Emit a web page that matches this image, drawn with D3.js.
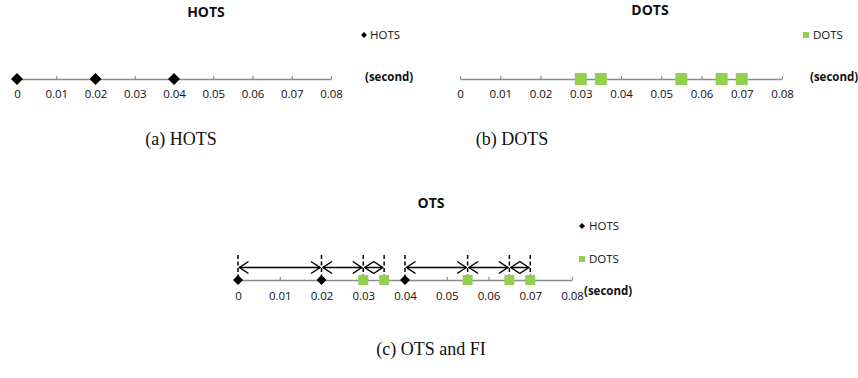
<!DOCTYPE html>
<html>
<head>
<meta charset="utf-8">
<script src="https://cdn.jsdelivr.net/npm/d3@7"></script>
<style>
  html, body { margin: 0; padding: 0; background: #fff; }
  svg { display: block; }
</style>
</head>
<body>
<svg id="chart" width="858" height="378"></svg>
<script>
// ---- data ----
const tickValues = [0, 0.01, 0.02, 0.03, 0.04, 0.05, 0.06, 0.07, 0.08];
const tickLabels = ["0", "0.01", "0.02", "0.03", "0.04", "0.05", "0.06", "0.07", "0.08"];
const hotsTimes = [0, 0.02, 0.04];
const dotsTimes = [0.03, 0.035, 0.055, 0.065, 0.07];
const fiStarts = [0, 0.02, 0.03, 0.04, 0.055, 0.065];
const fiEnds   = [0.02, 0.03, 0.035, 0.055, 0.065, 0.07];
const panelTitles = ["HOTS", "DOTS", "OTS"];
const captions = ["(a) HOTS", "(b) DOTS", "(c) OTS and FI"];
const unitLabel = "(second)";

const GREEN = "#92d050";
const AXIS_GRAY = "#8c8c8c";
const TXT = "#111";
const sansFont = "'Open Sans', 'Liberation Sans', sans-serif";
const serifFont = "'Liberation Serif', 'DejaVu Serif', serif";

const svg = d3.select("#chart");

function drawAxis(g, x, y, pad) {
  const axis = d3.axisBottom(x)
    .tickValues(tickValues)
    .tickFormat((d, i) => tickLabels[i])
    .tickSizeInner(-3)
    .tickSizeOuter(0)
    .tickPadding(pad);
  const ax = g.append("g").attr("transform", `translate(0,${y})`).call(axis);
  ax.select(".domain").attr("stroke", AXIS_GRAY).attr("stroke-width", 1.6);
  ax.selectAll(".tick line").attr("stroke", AXIS_GRAY).attr("stroke-width", 1.2);
  ax.selectAll(".tick text")
    .attr("font-family", sansFont).attr("font-size", 11.5).attr("fill", TXT);
  return ax;
}

function diamond(g, cx, cy, half) {
  g.append("path")
    .attr("d", `M${cx},${cy - half}L${cx + half},${cy}L${cx},${cy + half}L${cx - half},${cy}Z`)
    .attr("fill", "#000");
}
function square(g, cx, cy, half, color) {
  g.append("rect")
    .attr("x", cx - half).attr("y", cy - half)
    .attr("width", 2 * half).attr("height", 2 * half)
    .attr("fill", color);
}
function text(g, x, y, str, opts) {
  return g.append("text")
    .attr("x", x).attr("y", y)
    .attr("text-anchor", opts.anchor || "start")
    .attr("font-family", opts.family || sansFont)
    .attr("font-size", opts.size || 11.5)
    .attr("font-weight", opts.weight || "normal")
    .attr("fill", opts.fill || TXT)
    .text(str);
}

// ---- panel (a) HOTS ----
{
  const g = svg.append("g");
  const x = d3.scaleLinear().domain([0, 0.08]).range([17, 331]);
  const y0 = 79;
  drawAxis(g, x, y0, 11);
  hotsTimes.forEach(t => diamond(g, x(t), y0, 6));
  text(g, 206, 17, panelTitles[0], { anchor: "middle", size: 14, weight: "bold" });
  diamond(g, 364, 35, 3);
  text(g, 370, 39, "HOTS", { size: 11.5 });
  text(g, 365, 81, unitLabel, { size: 11.5, weight: "bold" });
  text(g, 181, 145, captions[0], { anchor: "middle", family: serifFont, size: 18, fill: "#111" });
}

// ---- panel (b) DOTS ----
{
  const g = svg.append("g");
  const x = d3.scaleLinear().domain([0, 0.08]).range([460, 782]);
  const y0 = 79;
  drawAxis(g, x, y0, 11);
  dotsTimes.forEach(t => square(g, x(t), y0, 6, GREEN));
  text(g, 650, 15, panelTitles[1], { anchor: "middle", size: 14, weight: "bold" });
  square(g, 806, 35, 3, GREEN);
  text(g, 813, 39, "DOTS", { size: 11.5 });
  text(g, 810, 81, unitLabel, { size: 11.5, weight: "bold" });
  text(g, 512, 145, captions[1], { anchor: "middle", family: serifFont, size: 18, fill: "#111" });
}

// ---- panel (c) OTS and FI ----
{
  const g = svg.append("g");
  const x = d3.scaleLinear().domain([0, 0.08]).range([238, 572]);
  const y0 = 280;
  const yArrow = 267.5;
  const yDashTop = 255;
  drawAxis(g, x, y0, 12);

  // dashed boundaries
  const bounds = Array.from(new Set(fiStarts.concat(fiEnds))).sort(d3.ascending);
  g.selectAll("line.dash").data(bounds).join("line")
    .attr("x1", d => x(d)).attr("x2", d => x(d))
    .attr("y1", yDashTop).attr("y2", y0)
    .attr("stroke", "#000").attr("stroke-width", 1.5)
    .attr("stroke-dasharray", "4,2.5");

  // double-headed arrows with open chevron heads
  const head = 9, hw = 6, inset = 1.5;
  fiStarts.forEach((s, i) => {
    const xa = x(s) + inset, xb = x(fiEnds[i]) - inset;
    g.append("line").attr("x1", xa).attr("x2", xb)
      .attr("y1", yArrow).attr("y2", yArrow)
      .attr("stroke", "#000").attr("stroke-width", 1.5);
    g.append("path")
      .attr("d", `M${xa + head},${yArrow - hw}L${xa},${yArrow}L${xa + head},${yArrow + hw}`)
      .attr("fill", "none").attr("stroke", "#000").attr("stroke-width", 1.5);
    g.append("path")
      .attr("d", `M${xb - head},${yArrow - hw}L${xb},${yArrow}L${xb - head},${yArrow + hw}`)
      .attr("fill", "none").attr("stroke", "#000").attr("stroke-width", 1.5);
  });

  dotsTimes.forEach(t => square(g, x(t), y0, 5, GREEN));
  hotsTimes.forEach(t => diamond(g, x(t), y0, 5));

  text(g, 431, 208, panelTitles[2], { anchor: "middle", size: 14, weight: "bold" });
  diamond(g, 582, 226, 3);
  text(g, 589, 230, "HOTS", { size: 11.5 });
  square(g, 582, 259, 3, GREEN);
  text(g, 589, 263, "DOTS", { size: 11.5 });
  text(g, 584, 295, unitLabel, { size: 11.5, weight: "bold" });
  text(g, 431, 355, captions[2], { anchor: "middle", family: serifFont, size: 18, fill: "#111" });
}
</script>
</body>
</html>
